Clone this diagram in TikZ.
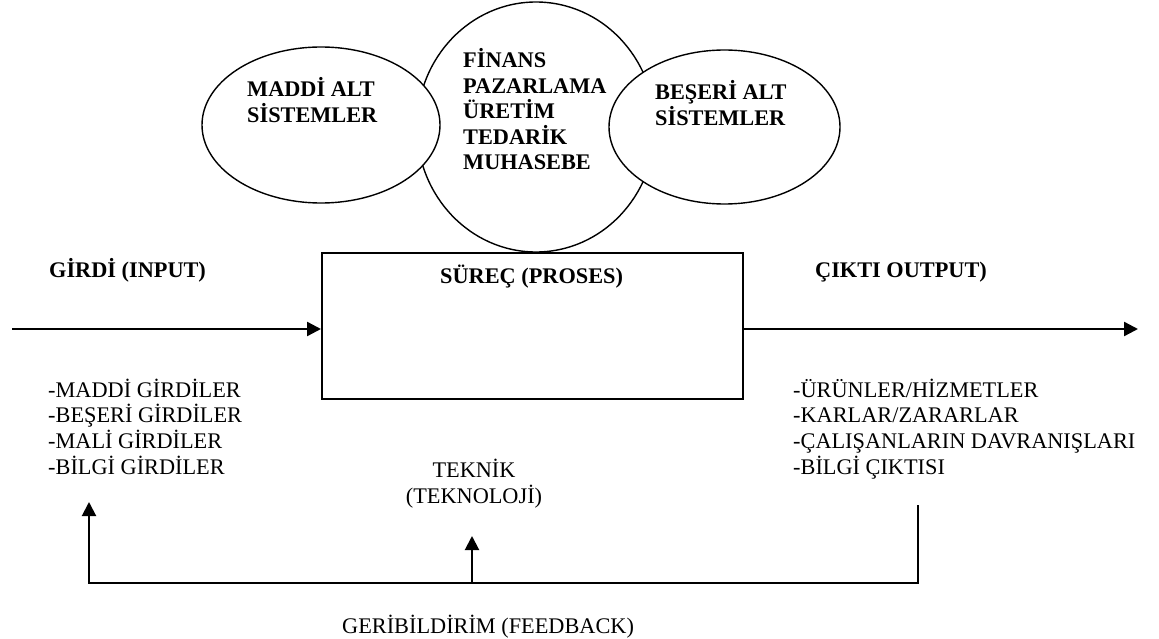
\documentclass[tikz,border=0pt]{standalone}
\usepackage{fontspec}
\setmainfont{Liberation Serif}
\usetikzlibrary{arrows.meta,shapes.geometric}

\begin{document}
\begin{tikzpicture}[x=1pt,y=-1pt,
  txt/.style={anchor=base west,inner sep=0pt,font=\fontsize{22.3}{25.8}\selectfont},
  btxt/.style={anchor=base west,inner sep=0pt,font=\fontsize{22.3}{25.8}\selectfont\bfseries},
  bubble/.style={ellipse,draw,line width=1.4pt,fill=white,inner sep=0pt},
  flow/.style={line width=2.4pt,-{Triangle[length=14pt,width=14pt]}},
  fb/.style={line width=2pt,line join=miter,-{Triangle[length=14pt,width=14pt]}},
]
\useasboundingbox (0,0) rectangle (1159,639);

% subsystems: the core functions first, the two side bubbles over it
\node[bubble,minimum width=238pt,minimum height=250pt] (core) at (536,127) {};
\node[bubble,minimum width=238pt,minimum height=156pt] (phys) at (321,125) {};
\node[bubble,minimum width=231pt,minimum height=154pt] (human) at (724.5,127) {};

\foreach \t [count=\i from 0] in {MADDİ ALT, SİSTEMLER}
  \node[btxt] (physl\i) at (247,97+25.8*\i) {\t};
\foreach \t [count=\i from 0] in {BEŞERİ ALT, SİSTEMLER}
  \node[btxt] (humanl\i) at (655,100+25.8*\i) {\t};
\foreach \t [count=\i from 0] in {FİNANS, PAZARLAMA, ÜRETİM, TEDARİK, MUHASEBE}
  \node[btxt] (corel\i) at (463,68+25.5*\i) {\t};

% process box
\node[draw,line width=2pt,minimum width=421pt,minimum height=146pt,inner sep=0pt] (proc) at (532.5,326) {};

% headings
\node[btxt] (inhead) at (49,277) {GİRDİ (INPUT)};
\node[btxt] (prochead) at (440,283) {SÜREÇ (PROSES)};
\node[btxt] (outhead) at (815,277) {ÇIKTI OUTPUT)};

% input and output flow
\coordinate (inS) at (12,329);
\coordinate (outE) at (1138,329);
\draw[flow] (inS) -- (inS -| proc.west);
\draw[flow] (outE -| proc.east) -- (outE);

% input and output lists
\foreach \t [count=\i from 0] in {-MADDİ GİRDİLER, -BEŞERİ GİRDİLER, -MALİ GİRDİLER, -BİLGİ GİRDİLER}
  \node[txt] (inl\i) at (48,397+25.8*\i) {\t};
\foreach \t [count=\i from 0] in {-ÜRÜNLER/HİZMETLER, -KARLAR/ZARARLAR, -ÇALIŞANLARIN DAVRANIŞLARI, -BİLGİ ÇIKTISI}
  \node[txt] (outl\i) at (793,397+25.8*\i) {\t};

% technique
\node[txt,anchor=base] (tech1) at (474,477) {TEKNİK};
\node[txt,anchor=base] (tech2) at (474,503) {(TEKNOLOJİ)};

% feedback loop
\coordinate (fbTop) at (918,505);
\coordinate (fbCorner) at (918,583);
\coordinate (fbLeft) at (89,583);
\coordinate (fbTip) at (89,502);
\coordinate (techBase) at (472,583);
\coordinate (techTip) at (472,536);
\draw[fb] (fbTop) -- (fbCorner) -- (fbLeft) -- (fbTip);
\draw[fb] (techBase) -- (techTip);
\node[txt] (fblabel) at (342,633) {GERİBİLDİRİM (FEEDBACK)};
\end{tikzpicture}
\end{document}
